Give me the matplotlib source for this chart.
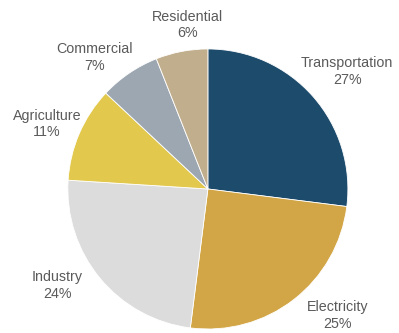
import matplotlib
matplotlib.use("Agg")
import matplotlib.pyplot as plt
import numpy as np

categories = ["Transportation", "Electricity", "Industry", "Agriculture", "Commercial", "Residential"]
values = [27, 25, 24, 11, 7, 6]
colors = ["#1d4b6c", "#d2a646", "#dcdcdc", "#e2c84c", "#9da7b1", "#c1ae8d"]
# label placement (style): radial distance and angular offset from wedge mid-angle
label_dist = [1.30, 1.29, 1.28, 1.24, 1.24, 1.18]
label_shift = [-1.3, 7.9, -6.9, 1.4, 6.6, -3.8]

fig = plt.figure(figsize=(3.99, 3.33), dpi=100)
ax = fig.add_axes([0.170, 0.012, 0.702, 0.841])
wedges, _ = ax.pie(values, colors=colors, startangle=90, counterclock=False,
                   wedgeprops=dict(edgecolor="white", linewidth=0.6))
ax.set_xlim(-1, 1)
ax.set_ylim(-1, 1)
ax.set_aspect("equal")
ax.axis("off")

for w, cat, v, d, s in zip(wedges, categories, values, label_dist, label_shift):
    ang = np.deg2rad((w.theta1 + w.theta2) / 2 + s)
    x, y = d * np.cos(ang), d * np.sin(ang)
    ax.text(x, y, f"{cat}\n{v}%", ha="center", va="center", fontsize=10.3,
            family="Liberation Sans", color="#5a5a5a", linespacing=1.25,
            clip_on=False)

fig.savefig("out.png", dpi=100)
